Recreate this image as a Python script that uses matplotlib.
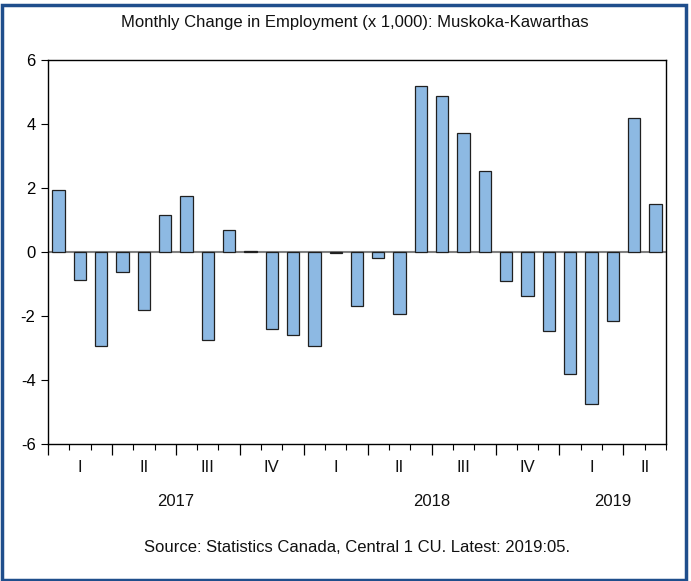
import numpy as np
import matplotlib.pyplot as plt
from matplotlib.patches import Rectangle

plt.rcParams['font.family'] = ['Liberation Sans', 'DejaVu Sans']

# monthly change in employment (x 1,000), 2017:01 .. 2019:05
change = [1.95, -0.88, -2.95, -0.61, -1.82, 1.17, 1.74, -2.75, 0.70, 0.03,
          -2.41, -2.60, -2.95, -0.04, -1.68, -0.20, -1.95, 5.20, 4.86, 3.71,
          2.53, -0.90, -1.39, -2.48, -3.82, -4.75, -2.17, 4.19, 1.49]
quarter_labels = ['I', 'II', 'III', 'IV', 'I', 'II', 'III', 'IV', 'I', 'II']
years = ['2017', '2018', '2019']
yticks = [-6, -4, -2, 0, 2, 4, 6]

n = len(change)
W, H = 691, 581
fig = plt.figure(figsize=(W / 100, H / 100), dpi=100)
ax = fig.add_axes([48 / W, 1 - 444 / H, (666 - 48) / W, (444 - 60) / H])

x = np.arange(n) + 0.5
ax.axhline(0, color='#808080', lw=1.5, zorder=1)
ax.bar(x, change, width=0.58, color='#8DB9E3', edgecolor='#202020',
       linewidth=0.9, zorder=2)

ax.set_xlim(0, n)
ax.set_ylim(-6, 6)
ax.set_yticks(yticks)
ax.set_yticklabels([str(v) for v in yticks], fontsize=12)
ax.tick_params(axis='y', length=5, width=0.8, pad=4)

# quarter boundaries = major ticks, months = minor ticks
ax.set_xticks(np.arange(0, n, 3))
ax.set_xticks(np.arange(0, n + 1), minor=True)
ax.set_xticklabels([])
ax.tick_params(axis='x', which='major', length=8, width=0.9)
ax.tick_params(axis='x', which='minor', length=4, width=0.8)
for s in ax.spines.values():
    s.set_linewidth(1.0)
    s.set_color('black')

trans = ax.get_xaxis_transform()
for i, q in enumerate(quarter_labels):
    start = 3 * i
    end = min(start + 3, n)
    ax.text((start + end) / 2, -24 / 384, q, transform=trans,
            ha='center', va='center', fontsize=12, color='#111111')
for j, yr in enumerate(years):
    start = 12 * j
    end = min(start + 12, n)
    ax.text((start + end) / 2, -58 / 384, yr, transform=trans,
            ha='center', va='center', fontsize=12, color='#111111')

fig.text(355 / W, 1 - 22 / H,
         'Monthly Change in Employment (x 1,000): Muskoka-Kawarthas',
         ha='center', va='center', fontsize=12, color='#111111')
fig.text(357 / W, 1 - 547 / H,
         'Source: Statistics Canada, Central 1 CU. Latest: 2019:05.',
         ha='center', va='center', fontsize=12, color='#111111')

# dark blue frame around the whole chart
fig.patches.append(Rectangle((1.5 / W, 1.5 / H), 684 / W, (576 - 1.5) / H,
                             transform=fig.transFigure, fill=False,
                             edgecolor='#1F4E8C', linewidth=2.5))

fig.savefig('out.png', dpi=100)
